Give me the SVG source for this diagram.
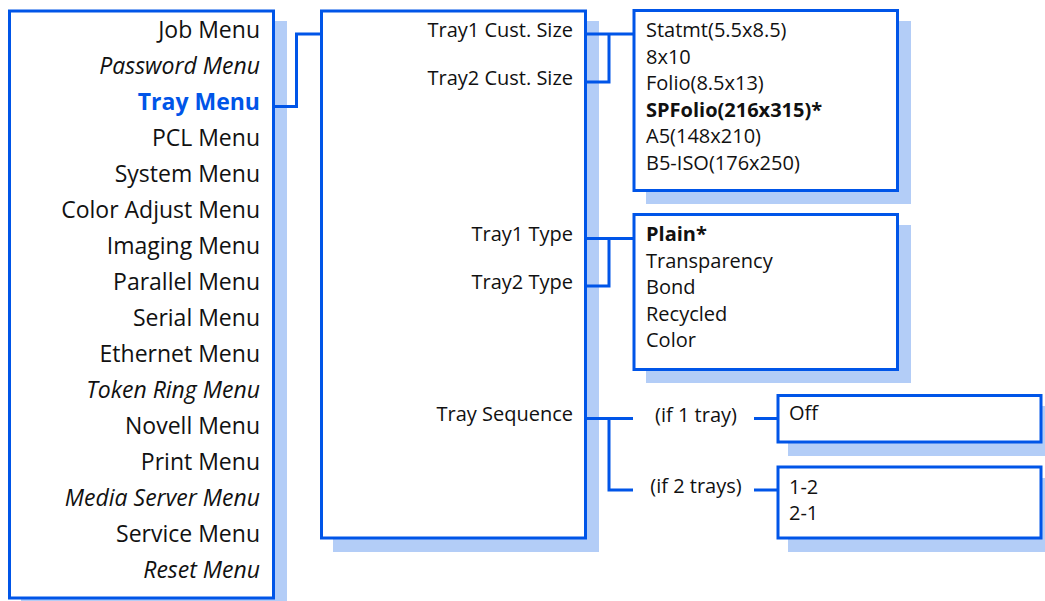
<svg xmlns="http://www.w3.org/2000/svg" width="1045" height="601" viewBox="0 0 1045 601">
<style>
.box{fill:#ffffff;stroke:#0055E8;stroke-width:3}
.sh{fill:#B3CDF7}
.ln{fill:none;stroke:#0055E8;stroke-width:3}
text{font-family:"Open Sans","Liberation Sans",sans-serif;fill:#111111}
.m{font-size:23px;text-anchor:end}
.s{font-size:20px}
.r{font-size:20px;text-anchor:end}
.i{font-style:italic}
.b{font-weight:bold}
.c{font-size:20px;text-anchor:middle}
</style>
<rect width="1045" height="601" fill="#ffffff"/>
<g id="shadows">
<rect class="sh" x="21" y="21" width="266" height="590"/>
<rect class="sh" x="333" y="21" width="266" height="531"/>
<rect class="sh" x="646" y="21" width="265" height="183"/>
<rect class="sh" x="646" y="225" width="265" height="158"/>
<rect class="sh" x="788" y="406" width="265" height="50"/>
<rect class="sh" x="788" y="478" width="265" height="74"/>
</g>
<g id="connectors">
<polyline class="ln" points="274,106.5 296.5,106.5 296.5,34 321,34"/>
<line class="ln" x1="585" y1="34" x2="634" y2="34"/>
<polyline class="ln" points="585,82 609,82 609,34"/>
<line class="ln" x1="585" y1="238.5" x2="634" y2="238.5"/>
<polyline class="ln" points="585,286 609,286 609,238.5"/>
<line class="ln" x1="585" y1="418.5" x2="633" y2="418.5"/>
<polyline class="ln" points="609,418.5 609,490 633,490"/>
<line class="ln" x1="754" y1="418.5" x2="778" y2="418.5"/>
<line class="ln" x1="754" y1="490" x2="778" y2="490"/>
</g>
<g id="main-menu">
<rect class="box" x="9.5" y="11" width="264" height="587"/>
<text class="m" x="260" y="38">Job Menu</text>
<text class="m i" x="260" y="74">Password Menu</text>
<text class="m b" x="260" y="110" style="fill:#0055E8">Tray Menu</text>
<text class="m" x="260" y="146">PCL Menu</text>
<text class="m" x="260" y="182">System Menu</text>
<text class="m" x="260" y="218">Color Adjust Menu</text>
<text class="m" x="260" y="254">Imaging Menu</text>
<text class="m" x="260" y="290">Parallel Menu</text>
<text class="m" x="260" y="326">Serial Menu</text>
<text class="m" x="260" y="362">Ethernet Menu</text>
<text class="m i" x="260" y="398">Token Ring Menu</text>
<text class="m" x="260" y="434">Novell Menu</text>
<text class="m" x="260" y="470">Print Menu</text>
<text class="m i" x="260" y="506">Media Server Menu</text>
<text class="m" x="260" y="542">Service Menu</text>
<text class="m i" x="260" y="577.5">Reset Menu</text>
</g>
<g id="tray-menu">
<rect class="box" x="321.5" y="11" width="264" height="527"/>
<text class="r" x="573" y="37">Tray1 Cust. Size</text>
<text class="r" x="573" y="85">Tray2 Cust. Size</text>
<text class="r" x="573" y="241">Tray1 Type</text>
<text class="r" x="573" y="289">Tray2 Type</text>
<text class="r" x="573" y="421">Tray Sequence</text>
</g>
<g id="sizes">
<rect class="box" x="634" y="10.5" width="263.5" height="180"/>
<text class="s" x="646" y="37">Statmt(5.5x8.5)</text>
<text class="s" x="646" y="63.5">8x10</text>
<text class="s" x="646" y="90">Folio(8.5x13)</text>
<text class="s b" x="646" y="116.5">SPFolio(216x315)*</text>
<text class="s" x="646" y="143">A5(148x210)</text>
<text class="s" x="646" y="170">B5-ISO(176x250)</text>
</g>
<g id="types">
<rect class="box" x="634" y="214.5" width="263.5" height="155"/>
<text class="s b" x="646" y="241">Plain*</text>
<text class="s" x="646" y="267.5">Transparency</text>
<text class="s" x="646" y="294">Bond</text>
<text class="s" x="646" y="320.5">Recycled</text>
<text class="s" x="646" y="347">Color</text>
</g>
<g id="labels">
<text class="c" x="696" y="421.5">(if 1 tray)</text>
<text class="c" x="696" y="493">(if 2 trays)</text>
</g>
<g id="seq-one">
<rect class="box" x="778" y="395.5" width="263" height="46.5"/>
<text class="s" x="789" y="420">Off</text>
</g>
<g id="seq-two">
<rect class="box" x="778" y="467" width="263" height="71"/>
<text class="s" x="789" y="494">1-2</text>
<text class="s" x="789" y="520">2-1</text>
</g>
</svg>
